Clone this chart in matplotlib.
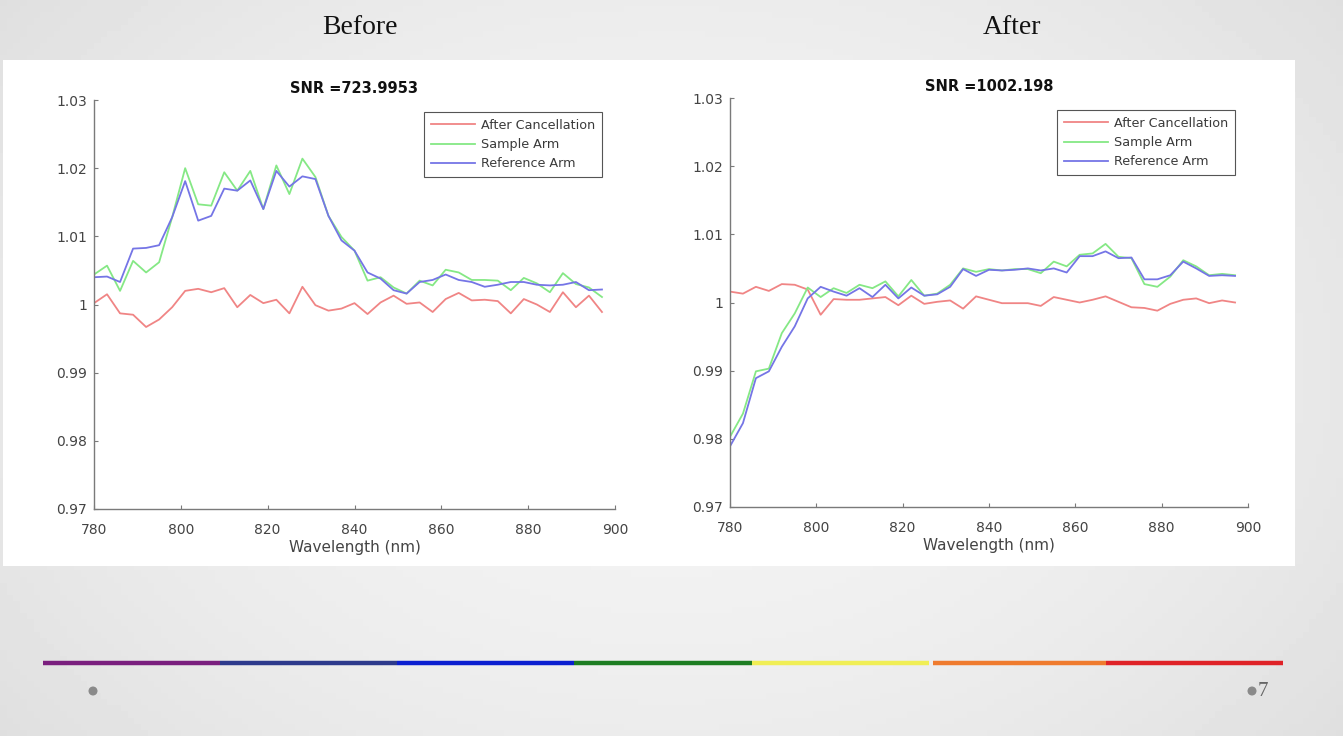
import numpy as np
import matplotlib
matplotlib.use("Agg")
import matplotlib.pyplot as plt
from matplotlib.patches import Rectangle, Circle

# -------------------------------------------------
# DATA
# -------------------------------------------------
wavelength = [780, 783, 786, 789, 792, 795, 798, 801, 804, 807,
              810, 813, 816, 819, 822, 825, 828, 831, 834, 837,
              840, 843, 846, 849, 852, 855, 858, 861, 864, 867,
              870, 873, 876, 879, 882, 885, 888, 891, 894, 897]

before_cancel = [1.0002, 1.0015, 0.9987, 0.9985, 0.9967, 0.9978, 0.9996, 1.0020, 1.0023, 1.0018,
                 1.0024, 0.9996, 1.0014, 1.0002, 1.0007, 0.9987, 1.0026, 0.9999, 0.9991, 0.9994,
                 1.0002, 0.9986, 1.0003, 1.0013, 1.0001, 1.0003, 0.9989, 1.0008, 1.0017, 1.0006,
                 1.0007, 1.0005, 0.9987, 1.0008, 1.0000, 0.9989, 1.0018, 0.9996, 1.0013, 0.9989]
before_sample = [1.0044, 1.0057, 1.0020, 1.0064, 1.0047, 1.0062, 1.0128, 1.0200, 1.0147, 1.0145,
                 1.0194, 1.0167, 1.0196, 1.0140, 1.0204, 1.0162, 1.0214, 1.0187, 1.0130, 1.0099,
                 1.0079, 1.0035, 1.0040, 1.0025, 1.0016, 1.0035, 1.0028, 1.0051, 1.0047, 1.0036,
                 1.0036, 1.0035, 1.0021, 1.0039, 1.0031, 1.0018, 1.0046, 1.0030, 1.0025, 1.0011]
before_ref = [1.0040, 1.0041, 1.0033, 1.0082, 1.0083, 1.0087, 1.0128, 1.0181, 1.0123, 1.0130,
              1.0170, 1.0167, 1.0182, 1.0140, 1.0196, 1.0173, 1.0188, 1.0184, 1.0130, 1.0094,
              1.0079, 1.0047, 1.0038, 1.0021, 1.0016, 1.0033, 1.0036, 1.0044, 1.0036, 1.0033,
              1.0026, 1.0029, 1.0033, 1.0033, 1.0029, 1.0028, 1.0029, 1.0033, 1.0021, 1.0022]

after_cancel = [1.0016, 1.0013, 1.0023, 1.0017, 1.0027, 1.0026, 1.0019, 0.9982, 1.0005, 1.0004,
                1.0004, 1.0006, 1.0008, 0.9996, 1.0010, 0.9998, 1.0001, 1.0003, 0.9991, 1.0009,
                1.0004, 0.9999, 0.9999, 0.9999, 0.9995, 1.0008, 1.0004, 1.0000, 1.0004, 1.0009,
                1.0001, 0.9993, 0.9992, 0.9988, 0.9998, 1.0004, 1.0006, 0.9999, 1.0003, 1.0000]
after_sample = [0.9803, 0.9837, 0.9899, 0.9903, 0.9955, 0.9984, 1.0022, 1.0008, 1.0021, 1.0014,
                1.0026, 1.0021, 1.0031, 1.0009, 1.0033, 1.0010, 1.0013, 1.0026, 1.0050, 1.0045,
                1.0049, 1.0047, 1.0049, 1.0049, 1.0043, 1.0060, 1.0053, 1.0070, 1.0072, 1.0086,
                1.0067, 1.0065, 1.0027, 1.0023, 1.0038, 1.0062, 1.0053, 1.0040, 1.0042, 1.0040]
after_ref = [0.9789, 0.9823, 0.9889, 0.9899, 0.9935, 0.9965, 1.0006, 1.0023, 1.0016, 1.0010,
             1.0021, 1.0008, 1.0026, 1.0006, 1.0022, 1.0010, 1.0012, 1.0023, 1.0049, 1.0039,
             1.0048, 1.0047, 1.0048, 1.0050, 1.0047, 1.0050, 1.0044, 1.0068, 1.0068, 1.0075,
             1.0065, 1.0066, 1.0034, 1.0034, 1.0040, 1.0060, 1.0050, 1.0039, 1.0040, 1.0039]

snr_titles = ["SNR =723.9953", "SNR =1002.198"]
panel_titles = ["Before", "After"]
series_labels = ["After Cancellation", "Sample Arm", "Reference Arm"]
x_ticks = [780, 800, 820, 840, 860, 880, 900]
y_ticks = [0.97, 0.98, 0.99, 1.0, 1.01, 1.02, 1.03]
y_ticklabels = ["0.97", "0.98", "0.99", "1", "1.01", "1.02", "1.03"]
page_number = "7"

series_colors = ["#f08585", "#85e885", "#7575e6"]
rainbow = ["#7a1f7e", "#2d3a8c", "#0b1fd0", "#1d7d22", "#f0ee55", "#ef7b2e", "#df2227"]

# -------------------------------------------------
# FIGURE / SLIDE BACKGROUND
# -------------------------------------------------
W, H = 1343, 736
fig = plt.figure(figsize=(W / 100, H / 100), dpi=100)

bg = fig.add_axes([0, 0, 1, 1])
bg.set_xlim(0, W)
bg.set_ylim(H, 0)
bg.axis("off")
gx = np.linspace(-1, 1, 200)
gy = np.linspace(-1, 1, 120)
GX, GY = np.meshgrid(gx, gy)
shade = 0.955 - 0.05 * (GX ** 2) - 0.03 * (GY ** 2)
bg.imshow(shade, cmap="gray", vmin=0, vmax=1, extent=(0, W, H, 0), aspect="auto", zorder=0)

# white content panel
bg.add_patch(Rectangle((3, 60), 1292, 506, facecolor="white", edgecolor="none", zorder=1))

# slide headings
for label, xc in zip(panel_titles, [360, 1012]):
    bg.text(xc, 27, label, ha="center", va="center", fontsize=20,
            family="Liberation Serif", color="#111111", zorder=2)

# rainbow rule (small gap before the orange piece, as on the slide)
seg_edges = np.linspace(43, 1283, len(rainbow) + 1)
for k, c in enumerate(rainbow):
    x0 = seg_edges[k] + (4 if k == 5 else 0)
    bg.plot([x0, seg_edges[k + 1]], [663, 663], color=c, lw=3.2,
            solid_capstyle="butt", zorder=2)

bg.add_patch(Circle((93, 691), 3.8, color="#8a8a8a", zorder=2))
bg.add_patch(Circle((1252, 691), 3.8, color="#8a8a8a", zorder=2))
bg.text(1258, 692, page_number, ha="left", va="center", fontsize=15,
        family="Liberation Serif", color="#666666", zorder=2)

# -------------------------------------------------
# PLOTS
# -------------------------------------------------
axes_rects = [
    [94 / W, 1 - 509 / H, 521 / W, 409 / H],
    [730 / W, 1 - 507 / H, 518 / W, 409 / H],
]
datasets = [
    (before_cancel, before_sample, before_ref),
    (after_cancel, after_sample, after_ref),
]

for rect, data, snr in zip(axes_rects, datasets, snr_titles):
    ax = fig.add_axes(rect)
    ax.set_facecolor("white")
    for ys, c, lab in zip(data, series_colors, series_labels):
        ax.plot(wavelength, ys, color=c, lw=1.3, label=lab)

    ax.set_xlim(780, 900)
    ax.set_ylim(0.97, 1.03)
    ax.set_xticks(x_ticks)
    ax.set_yticks(y_ticks)
    ax.set_yticklabels(y_ticklabels)

    for s in ["top", "right"]:
        ax.spines[s].set_visible(False)
    for s in ["left", "bottom"]:
        ax.spines[s].set_color("#7a7a7a")
        ax.spines[s].set_linewidth(1.0)
    ax.tick_params(direction="in", length=3, width=0.8, color="#7a7a7a",
                   labelcolor="#444444", labelsize=10)
    ax.tick_params(axis="x", pad=10)
    ax.tick_params(axis="y", pad=5)

    ax.set_xlabel("Wavelength (nm)", fontsize=11, color="#444444", labelpad=2)
    ax.set_title(snr, fontsize=10.5, fontweight="bold", color="#111111", pad=5)

    leg = ax.legend(loc="upper right", bbox_to_anchor=(0.975, 0.971), borderaxespad=0,
                    fancybox=False, framealpha=1, edgecolor="#555555",
                    prop={"size": 9.2},
                    handlelength=3.45, handletextpad=0.45, labelspacing=0.48,
                    borderpad=0.55)
    leg.get_frame().set_linewidth(0.8)
    for t in leg.get_texts():
        t.set_color("#3a3a3a")

fig.savefig("out.png", dpi=100)
